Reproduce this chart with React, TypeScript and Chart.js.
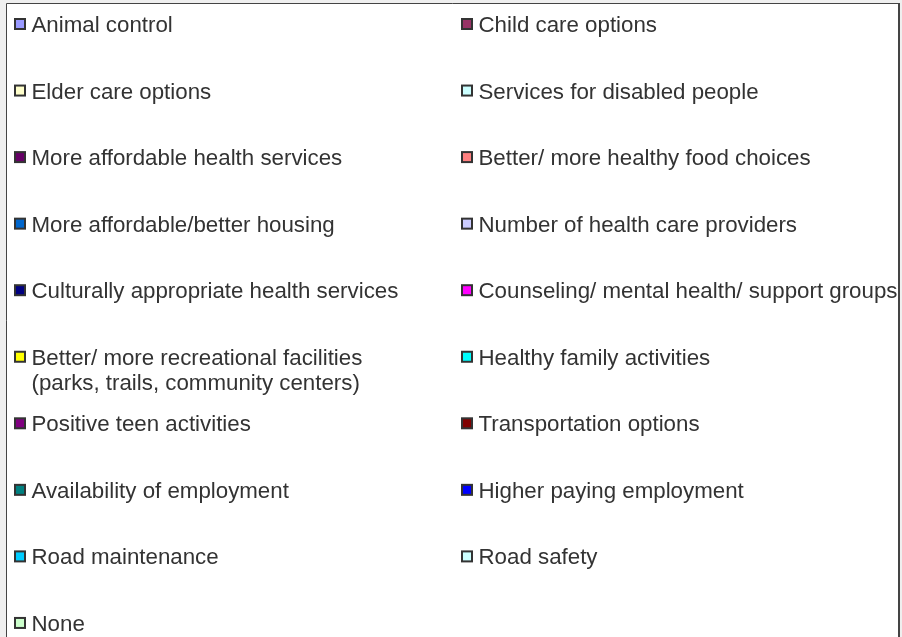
import React, { useEffect, useRef } from "react";
import { Chart, registerables } from "chart.js";

Chart.register(...registerables);

const categories: string[] = [
  "Animal control",
  "Child care options",
  "Elder care options",
  "Services for disabled people",
  "More affordable health services",
  "Better/ more healthy food choices",
  "More affordable/better housing",
  "Number of health care providers",
  "Culturally appropriate health services",
  "Counseling/ mental health/ support groups",
  "Better/ more recreational facilities\n(parks, trails, community centers)",
  "Healthy family activities",
  "Positive teen activities",
  "Transportation options",
  "Availability of employment",
  "Higher paying employment",
  "Road maintenance",
  "Road safety",
  "None",
];

const colors: string[] = [
  "#9999FF",
  "#993366",
  "#FFFFCC",
  "#CCFFFF",
  "#660066",
  "#FF8080",
  "#0066CC",
  "#CCCCFF",
  "#000080",
  "#FF00FF",
  "#FFFF00",
  "#00FFFF",
  "#800080",
  "#800000",
  "#008080",
  "#0000FF",
  "#00CCFF",
  "#CCFFFF",
  "#CCFFCC",
];

// Values are not visible in the reference (only the legend is shown)
const values: number[] = [];

const FONT = "22.3px 'Liberation Sans', Arial, sans-serif";

const frameAndLegend = {
  id: "frameAndLegend",
  beforeDraw(chart: any) {
    const { ctx, width, height } = chart;
    ctx.save();
    ctx.fillStyle = "#efefef";
    ctx.fillRect(0, 0, width, height);
    ctx.fillStyle = "#ffffff";
    ctx.fillRect(6, 3, 894, height);
    ctx.strokeStyle = "#444444";
    ctx.lineWidth = 1;
    ctx.beginPath();
    ctx.moveTo(6.5, height + 2);
    ctx.lineTo(6.5, 3.5);
    ctx.lineTo(899, 3.5);
    ctx.stroke();
    ctx.lineWidth = 2;
    ctx.beginPath();
    ctx.moveTo(899, 3);
    ctx.lineTo(899, height + 2);
    ctx.stroke();
    ctx.restore();
  },
  afterDraw(chart: any) {
    const { ctx } = chart;
    const labels: string[] = chart.data.labels;
    const bg: string[] = chart.data.datasets[0].backgroundColor;
    const firstBaseline = 32;
    const rowStep = 66.55;
    const colX = [14, 461];
    const lineH = 25;
    ctx.save();
    ctx.font = FONT;
    ctx.textBaseline = "alphabetic";
    ctx.textAlign = "left";
    labels.forEach((label, i) => {
      const row = Math.floor(i / 2);
      const col = i % 2;
      const base = firstBaseline + row * rowStep;
      const x = colX[col];
      // swatch
      ctx.fillStyle = bg[i];
      ctx.fillRect(x + 1, base - 13, 10, 10);
      ctx.strokeStyle = "#333333";
      ctx.lineWidth = 2;
      ctx.strokeRect(x + 1, base - 13, 10, 10);
      // text
      ctx.fillStyle = "#333333";
      label.split("\n").forEach((line, j) => {
        ctx.fillText(line, x + 17.5, base + j * lineH);
      });
    });
    ctx.restore();
  },
};

export default function App() {
  const ref = useRef<HTMLCanvasElement | null>(null);
  useEffect(() => {
    if (!ref.current) return;
    const chart = new Chart(ref.current, {
      type: "pie",
      data: {
        labels: categories,
        datasets: [
          {
            data: values,
            backgroundColor: colors,
            borderColor: "#000000",
          },
        ],
      },
      options: {
        responsive: false,
        animation: false,
        devicePixelRatio: 1,
        plugins: {
          legend: { display: false },
          tooltip: { enabled: false },
        },
      },
      plugins: [frameAndLegend],
    });
    return () => chart.destroy();
  }, []);
  return (
    <canvas
      ref={ref}
      width={902}
      height={637}
      style={{ position: "fixed", left: 0, top: 0, width: 902, height: 637, display: "block" }}
    />
  );
}
